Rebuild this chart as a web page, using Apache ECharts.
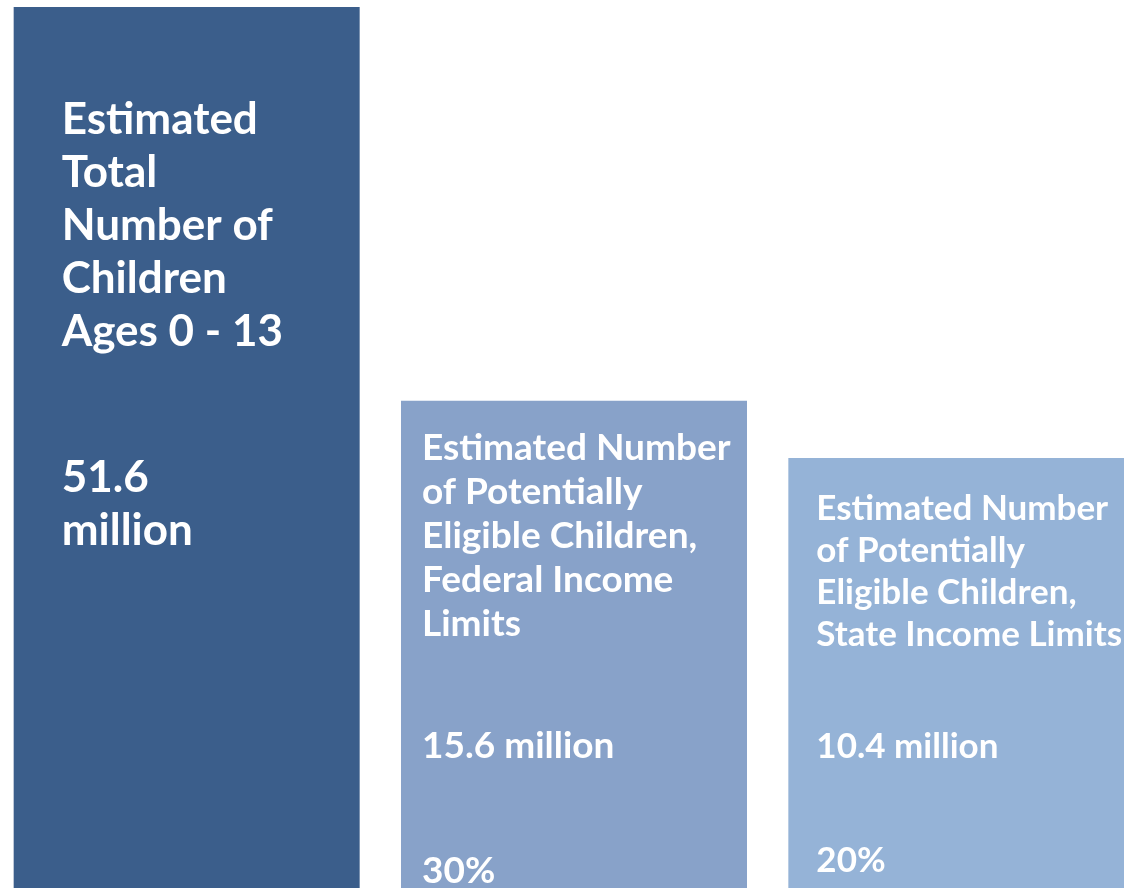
<!DOCTYPE html>
<html>
<head>
<meta charset="utf-8">
<script src="https://cdn.jsdelivr.net/npm/echarts@6/dist/echarts.min.js"></script>
<style>
html,body{margin:0;padding:0;background:#fff;}
#chart{width:1124px;height:890px;}
</style>
</head>
<body>
<div id="chart"></div>
<script>
// ---- data ----
const categories = ['Total children', 'Eligible (federal limits)', 'Eligible (state limits)'];
const titleLines = [
  ['Estimated', 'Total', 'Number of', 'Children', 'Ages 0 - 13'],
  ['Estimated Number', 'of Potentially', 'Eligible Children,', 'Federal Income', 'Limits'],
  ['Estimated Number', 'of Potentially', 'Eligible Children,', 'State Income Limits']
];
const barHeights = [100, 55.3, 48.8];     // drawn heights (relative units)
const millions = [51.6, 15.6, 10.4];
const percents = [null, 30, 20];

// ---- styling per bar (not data) ----
const looks = [
  { color: '#3B5E8B', dx: 48, dy: 86, size: 44, lh: 53, gap1: 93, gap2: 0, split: true },
  { color: '#88A2C9', dx: 21, dy: 25, size: 37, lh: 44, gap1: 78, gap2: 81, split: false },
  { color: '#95B3D7', dx: 28, dy: 30, size: 35, lh: 42, gap1: 70, gap2: 72, split: false }
];
const FONT = 'Lato, "Open Sans", sans-serif';

function labelText(i) {
  const parts = titleLines[i].map(l => '{t|' + l + '}');
  parts.push('{g1| }');
  const vt = millions[i].toFixed(1) + ' million';
  if (looks[i].split) {
    vt.split(' ').forEach(w => parts.push('{t|' + w + '}'));
  } else {
    parts.push('{t|' + vt + '}');
  }
  if (percents[i] != null) {
    parts.push('{g2| }');
    parts.push('{t|' + percents[i] + '%}');
  }
  return parts.join('\n');
}

const seriesData = barHeights.map((h, i) => ({
  value: h,
  itemStyle: { color: looks[i].color },
  label: {
    show: true,
    position: [looks[i].dx, looks[i].dy],
    align: 'left',
    verticalAlign: 'top',
    formatter: () => labelText(i),
    rich: {
      t: { color: '#fff', fontFamily: FONT, fontWeight: 'bold', fontSize: looks[i].size, lineHeight: looks[i].lh },
      g1: { fontSize: 1, lineHeight: looks[i].gap1 },
      g2: { fontSize: 1, lineHeight: looks[i].gap2 }
    }
  }
}));

const chart = echarts.init(document.getElementById('chart'), null, { renderer: 'canvas' });
chart.setOption({
  animation: false,
  backgroundColor: '#ffffff',
  grid: { left: -7, right: -31, top: 7, bottom: 2, containLabel: false, outerBoundsMode: 'none' },
  xAxis: {
    type: 'category',
    data: categories,
    show: false
  },
  yAxis: { type: 'value', min: 0, max: 100, show: false },
  series: [{
    type: 'bar',
    barWidth: 346,
    data: seriesData
  }]
});
</script>
</body>
</html>
